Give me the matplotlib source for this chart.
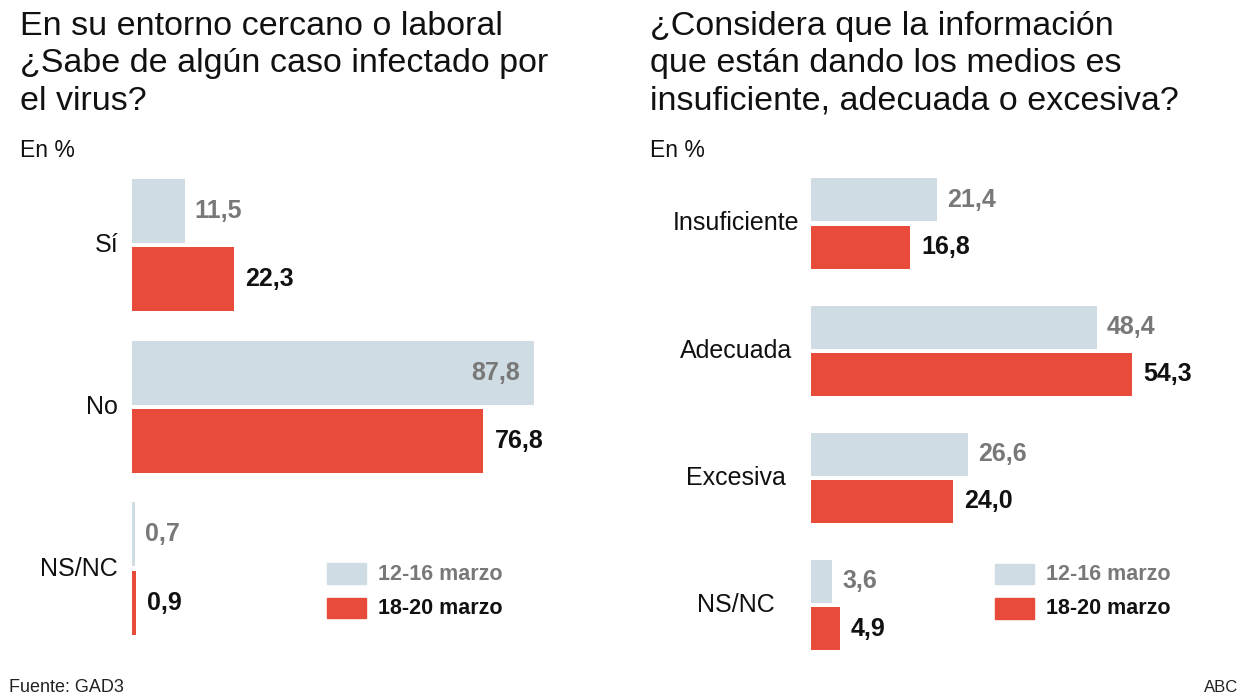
import matplotlib.pyplot as plt
from matplotlib.patches import Rectangle

W, H = 1248, 698

# Left chart
left_title = "En su entorno cercano o laboral\n¿Sabe de algún caso infectado por\nel virus?"
left_cats = ["Sí", "No", "NS/NC"]
left_before = [11.5, 87.8, 0.7]
left_after = [22.3, 76.8, 0.9]

# Right chart
right_title = "¿Considera que la información\nque están dando los medios es\ninsuficiente, adecuada o excesiva?"
right_cats = ["Insuficiente", "Adecuada", "Excesiva", "NS/NC"]
right_before = [21.4, 48.4, 26.6, 3.6]
right_after = [16.8, 54.3, 24.0, 4.9]

series_names = ["12-16 marzo", "18-20 marzo"]
unit_label = "En %"
source = "Fuente: GAD3"
credit = "ABC"

GREY = "#d0dce3"
RED = "#e84b3a"
GREY_TEXT = "#787878"
DARK = "#111111"


def fmt(v):
    return f"{v:.1f}".replace(".", ",")


def px_rect(x0, y0, x1, y1):
    # pixel box (top-left origin) -> figure fraction [left, bottom, width, height]
    return [x0 / W, 1 - y1 / H, (x1 - x0) / W, (y1 - y0) / H]


def draw_panel(fig, rect, cats, before, after, xmax, bar_h, offset,
               cat_dx, cat_ha):
    ax = fig.add_axes(rect)
    ys = list(range(len(cats)))
    ax.barh([y - offset for y in ys], before, height=bar_h, color=GREY)
    ax.barh([y + offset for y in ys], after, height=bar_h, color=RED)
    ax.set_xlim(0, xmax)
    ax.set_ylim(len(cats) - 0.5, -0.5)
    ax.axis("off")

    for y, b, a in zip(ys, before, after):
        if b > 80:
            # long bar: value sits inside the end of the bar
            ax.annotate(fmt(b), (b, y - offset), xytext=(-10, 0), textcoords="offset points",
                        ha="right", va="center", fontsize=18, fontweight="bold", color=GREY_TEXT)
        else:
            ax.annotate(fmt(b), (b, y - offset), xytext=(7, 0), textcoords="offset points",
                        ha="left", va="center", fontsize=18, fontweight="bold", color=GREY_TEXT)
        ax.annotate(fmt(a), (a, y + offset), xytext=(8, 0), textcoords="offset points",
                    ha="left", va="center", fontsize=18, fontweight="bold", color=DARK)

    for y, c in zip(ys, cats):
        ax.annotate(c, (0, y), xytext=(cat_dx, 0), textcoords="offset points",
                    ha=cat_ha, va="center", fontsize=18, color=DARK)
    return ax


def draw_legend(fig, x, y_top):
    for k, (name, col, tcol) in enumerate(zip(series_names, [GREY, RED], [GREY_TEXT, DARK])):
        y0 = y_top + k * 34.5
        fig.patches.append(Rectangle((x / W, 1 - (y0 + 20.5) / H), 39 / W, 20.5 / H,
                                     transform=fig.transFigure, color=col))
        fig.text((x + 51) / W, 1 - (y0 + 11) / H, name, ha="left", va="center",
                 fontsize=15.5, fontweight="bold", color=tcol)


def main():
    plt.rcParams["font.family"] = ["Liberation Sans", "DejaVu Sans"]
    fig = plt.figure(figsize=(W / 100, H / 100), dpi=100)

    # Left panel: 4.575 px per %, rows 161.6 px apart
    draw_panel(fig, px_rect(132, 164.5, 132 + 457.5, 649.3),
               left_cats, left_before, left_after, 100,
               bar_h=0.396, offset=0.211, cat_dx=-10, cat_ha="right")
    # Right panel: 5.91 px per %, rows 127.2 px apart
    draw_panel(fig, px_rect(811, 159.9, 811 + 354.6, 668.6),
               right_cats, right_before, right_after, 60,
               bar_h=0.338, offset=0.185, cat_dx=-54, cat_ha="center")

    for x, title in [(20, left_title), (650, right_title)]:
        fig.text(x / W, 1 - 11 / H, title, ha="left", va="top", fontsize=24.5,
                 linespacing=1.27, color=DARK)
        fig.text(x / W, 1 - 157 / H, unit_label, ha="left", va="baseline",
                 fontsize=16.5, color=DARK)

    draw_legend(fig, 327, 563)
    draw_legend(fig, 995, 563.5)

    fig.text(9 / W, 1 - 688 / H, source, ha="left", va="center", fontsize=13, color="#222222")
    fig.text(1238 / W, 1 - 688 / H, credit, ha="right", va="center", fontsize=12, color="#222222")

    fig.savefig("out.png", dpi=100)


if __name__ == "__main__":
    main()
